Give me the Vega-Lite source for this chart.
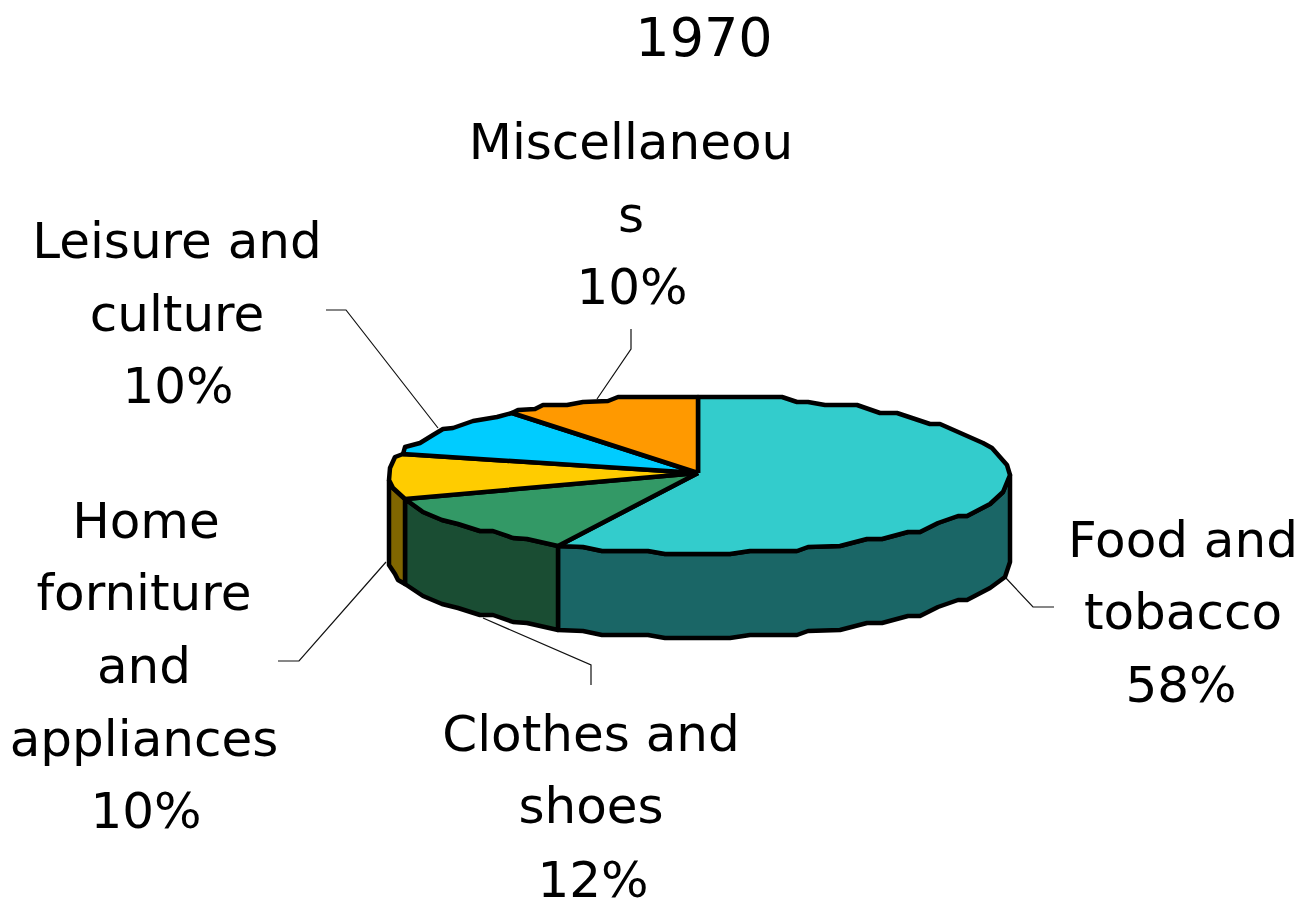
{"$schema":"https://vega.github.io/schema/vega-lite/v6.json","width":1308,"height":901,"autosize":{"type":"none"},"padding":0,"background":"white","view":{"stroke":null},"config":{"axis":{"domain":false}},
"datasets":{"slices":[
{"part":"foodSide","s":1,"a":558,"b":546},{"part":"foodSide","s":2,"a":583,"b":547},{"part":"foodSide","s":3,"a":602,"b":551},{"part":"foodSide","s":4,"a":648,"b":551},{"part":"foodSide","s":5,"a":665,"b":554},{"part":"foodSide","s":6,"a":730,"b":554},{"part":"foodSide","s":7,"a":750,"b":551},{"part":"foodSide","s":8,"a":797,"b":551},{"part":"foodSide","s":9,"a":808,"b":547},{"part":"foodSide","s":10,"a":840,"b":546},{"part":"foodSide","s":11,"a":867,"b":539},{"part":"foodSide","s":12,"a":882,"b":539},{"part":"foodSide","s":13,"a":908,"b":532},{"part":"foodSide","s":14,"a":920,"b":532},{"part":"foodSide","s":15,"a":938,"b":523},{"part":"foodSide","s":16,"a":958,"b":516},{"part":"foodSide","s":17,"a":967,"b":516},{"part":"foodSide","s":18,"a":990,"b":504},{"part":"foodSide","s":19,"a":1003,"b":492},{"part":"foodSide","s":20,"a":1010,"b":475},{"part":"foodSide","s":21,"a":1010,"b":562},{"part":"foodSide","s":22,"a":1005,"b":577},{"part":"foodSide","s":23,"a":990,"b":588},{"part":"foodSide","s":24,"a":967,"b":600},{"part":"foodSide","s":25,"a":958,"b":600},{"part":"foodSide","s":26,"a":938,"b":607},{"part":"foodSide","s":27,"a":920,"b":616},{"part":"foodSide","s":28,"a":908,"b":616},{"part":"foodSide","s":29,"a":882,"b":623},{"part":"foodSide","s":30,"a":867,"b":623},{"part":"foodSide","s":31,"a":840,"b":630},{"part":"foodSide","s":32,"a":808,"b":631},{"part":"foodSide","s":33,"a":797,"b":635},{"part":"foodSide","s":34,"a":750,"b":635},{"part":"foodSide","s":35,"a":730,"b":638},{"part":"foodSide","s":36,"a":665,"b":638},{"part":"foodSide","s":37,"a":648,"b":635},{"part":"foodSide","s":38,"a":602,"b":635},{"part":"foodSide","s":39,"a":583,"b":631},{"part":"foodSide","s":40,"a":558,"b":630},{"part":"foodSide","s":41,"a":558,"b":546},
{"part":"clothesSide","s":1,"a":405,"b":499},{"part":"clothesSide","s":2,"a":423,"b":512},{"part":"clothesSide","s":3,"a":442,"b":520},{"part":"clothesSide","s":4,"a":458,"b":524},{"part":"clothesSide","s":5,"a":480,"b":531},{"part":"clothesSide","s":6,"a":493,"b":531},{"part":"clothesSide","s":7,"a":513,"b":538},{"part":"clothesSide","s":8,"a":527,"b":539},{"part":"clothesSide","s":9,"a":558,"b":546},{"part":"clothesSide","s":10,"a":558,"b":630},{"part":"clothesSide","s":11,"a":527,"b":623},{"part":"clothesSide","s":12,"a":513,"b":622},{"part":"clothesSide","s":13,"a":493,"b":615},{"part":"clothesSide","s":14,"a":480,"b":615},{"part":"clothesSide","s":15,"a":458,"b":608},{"part":"clothesSide","s":16,"a":442,"b":604},{"part":"clothesSide","s":17,"a":423,"b":596},{"part":"clothesSide","s":18,"a":405,"b":584},{"part":"clothesSide","s":19,"a":405,"b":499},
{"part":"homeSide","s":1,"a":389,"b":480},{"part":"homeSide","s":2,"a":393,"b":488},{"part":"homeSide","s":3,"a":405,"b":499},{"part":"homeSide","s":4,"a":405,"b":584},{"part":"homeSide","s":5,"a":398,"b":580},{"part":"homeSide","s":6,"a":395,"b":574},{"part":"homeSide","s":7,"a":389,"b":565},{"part":"homeSide","s":8,"a":389,"b":480},
{"part":"food","s":1,"a":698,"b":473},{"part":"food","s":2,"a":698,"b":397},{"part":"food","s":3,"a":782,"b":397},{"part":"food","s":4,"a":797,"b":402},{"part":"food","s":5,"a":808,"b":402},{"part":"food","s":6,"a":825,"b":405},{"part":"food","s":7,"a":857,"b":405},{"part":"food","s":8,"a":880,"b":413},{"part":"food","s":9,"a":897,"b":413},{"part":"food","s":10,"a":930,"b":424},{"part":"food","s":11,"a":940,"b":424},{"part":"food","s":12,"a":983,"b":443},{"part":"food","s":13,"a":992,"b":448},{"part":"food","s":14,"a":1007,"b":465},{"part":"food","s":15,"a":1010,"b":475},{"part":"food","s":16,"a":1003,"b":492},{"part":"food","s":17,"a":990,"b":504},{"part":"food","s":18,"a":967,"b":516},{"part":"food","s":19,"a":958,"b":516},{"part":"food","s":20,"a":938,"b":523},{"part":"food","s":21,"a":920,"b":532},{"part":"food","s":22,"a":908,"b":532},{"part":"food","s":23,"a":882,"b":539},{"part":"food","s":24,"a":867,"b":539},{"part":"food","s":25,"a":840,"b":546},{"part":"food","s":26,"a":808,"b":547},{"part":"food","s":27,"a":797,"b":551},{"part":"food","s":28,"a":750,"b":551},{"part":"food","s":29,"a":730,"b":554},{"part":"food","s":30,"a":665,"b":554},{"part":"food","s":31,"a":648,"b":551},{"part":"food","s":32,"a":602,"b":551},{"part":"food","s":33,"a":583,"b":547},{"part":"food","s":34,"a":558,"b":546},{"part":"food","s":35,"a":698,"b":473},
{"part":"clothes","s":1,"a":698,"b":473},{"part":"clothes","s":2,"a":558,"b":546},{"part":"clothes","s":3,"a":527,"b":539},{"part":"clothes","s":4,"a":513,"b":538},{"part":"clothes","s":5,"a":493,"b":531},{"part":"clothes","s":6,"a":480,"b":531},{"part":"clothes","s":7,"a":458,"b":524},{"part":"clothes","s":8,"a":442,"b":520},{"part":"clothes","s":9,"a":423,"b":512},{"part":"clothes","s":10,"a":405,"b":499},{"part":"clothes","s":11,"a":698,"b":473},
{"part":"home","s":1,"a":698,"b":473},{"part":"home","s":2,"a":405,"b":499},{"part":"home","s":3,"a":393,"b":488},{"part":"home","s":4,"a":389,"b":480},{"part":"home","s":5,"a":390,"b":468},{"part":"home","s":6,"a":395,"b":457},{"part":"home","s":7,"a":403,"b":454},{"part":"home","s":8,"a":698,"b":473},
{"part":"leisure","s":1,"a":698,"b":473},{"part":"leisure","s":2,"a":403,"b":454},{"part":"leisure","s":3,"a":405,"b":447},{"part":"leisure","s":4,"a":420,"b":443},{"part":"leisure","s":5,"a":433,"b":435},{"part":"leisure","s":6,"a":443,"b":429},{"part":"leisure","s":7,"a":453,"b":428},{"part":"leisure","s":8,"a":473,"b":421},{"part":"leisure","s":9,"a":497,"b":417},{"part":"leisure","s":10,"a":512,"b":413},{"part":"leisure","s":11,"a":698,"b":473},
{"part":"misc","s":1,"a":698,"b":473},{"part":"misc","s":2,"a":512,"b":413},{"part":"misc","s":3,"a":518,"b":410},{"part":"misc","s":4,"a":535,"b":409},{"part":"misc","s":5,"a":543,"b":405},{"part":"misc","s":6,"a":567,"b":405},{"part":"misc","s":7,"a":583,"b":402},{"part":"misc","s":8,"a":608,"b":401},{"part":"misc","s":9,"a":618,"b":397},{"part":"misc","s":10,"a":698,"b":397},{"part":"misc","s":11,"a":698,"b":473}
],
"leaders":[
{"l":"food","s":1,"a":1005,"b":577},{"l":"food","s":2,"a":1033,"b":607},{"l":"food","s":3,"a":1054,"b":607},
{"l":"clothes","s":1,"a":483,"b":618},{"l":"clothes","s":2,"a":591,"b":665},{"l":"clothes","s":3,"a":591,"b":685},
{"l":"home","s":1,"a":386,"b":562},{"l":"home","s":2,"a":299,"b":661},{"l":"home","s":3,"a":278,"b":661},
{"l":"leisure","s":1,"a":438,"b":428},{"l":"leisure","s":2,"a":346,"b":310},{"l":"leisure","s":3,"a":326,"b":310},
{"l":"misc","s":1,"a":597,"b":399},{"l":"misc","s":2,"a":631,"b":349},{"l":"misc","s":3,"a":631,"b":329}
],
"labels":[
{"t":"Miscellaneou","a":631,"b":159},{"t":"s","a":631,"b":232},{"t":"10%","a":632,"b":304},
{"t":"Leisure and","a":177,"b":258},{"t":"culture","a":177,"b":331},{"t":"10%","a":178,"b":403},
{"t":"Home","a":146,"b":538},{"t":"forniture","a":144,"b":610},{"t":"and","a":144,"b":683},{"t":"appliances","a":144,"b":756},{"t":"10%","a":146,"b":828},
{"t":"Clothes and","a":591,"b":751},{"t":"shoes","a":591,"b":823},{"t":"12%","a":593,"b":897},
{"t":"Food and","a":1183,"b":557},{"t":"tobacco","a":1183,"b":629},{"t":"58%","a":1181,"b":702}
],
"heading":[{"t":"1970","a":704,"b":56}]},
"layer":[
{"data":{"name":"leaders"},"mark":{"type":"line","stroke":"#111111","strokeWidth":1.2},"encoding":{"x":{"field":"a","type":"quantitative","scale":{"domain":[0,1308],"nice":false,"zero":false},"axis":null},"y":{"field":"b","type":"quantitative","scale":{"domain":[901,0],"nice":false,"zero":false},"axis":null},"detail":{"field":"l"},"order":{"field":"s"}}},
{"data":{"name":"slices"},"mark":{"type":"line","stroke":"black","strokeWidth":4.5,"strokeJoin":"round"},"encoding":{"x":{"field":"a","type":"quantitative","scale":{"domain":[0,1308],"nice":false,"zero":false},"axis":null},"y":{"field":"b","type":"quantitative","scale":{"domain":[901,0],"nice":false,"zero":false},"axis":null},"fill":{"field":"part","type":"nominal","legend":null,"scale":{"domain":["food","clothes","home","leisure","misc","foodSide","clothesSide","homeSide"],"range":["#33CCCC","#339966","#FFCC00","#00CCFF","#FF9900","#1A6666","#1A4D33","#806600"]}},"order":{"field":"s"}}},
{"data":{"name":"labels"},"mark":{"type":"text","font":"DejaVu Sans","fontSize":50,"align":"center","baseline":"alphabetic","color":"black"},"encoding":{"x":{"field":"a","type":"quantitative","scale":{"domain":[0,1308],"nice":false,"zero":false},"axis":null},"y":{"field":"b","type":"quantitative","scale":{"domain":[901,0],"nice":false,"zero":false},"axis":null},"text":{"field":"t"}}},
{"data":{"name":"heading"},"mark":{"type":"text","font":"DejaVu Sans","fontSize":54,"align":"center","baseline":"alphabetic","color":"black"},"encoding":{"x":{"field":"a","type":"quantitative","scale":{"domain":[0,1308],"nice":false,"zero":false},"axis":null},"y":{"field":"b","type":"quantitative","scale":{"domain":[901,0],"nice":false,"zero":false},"axis":null},"text":{"field":"t"}}}
]}
